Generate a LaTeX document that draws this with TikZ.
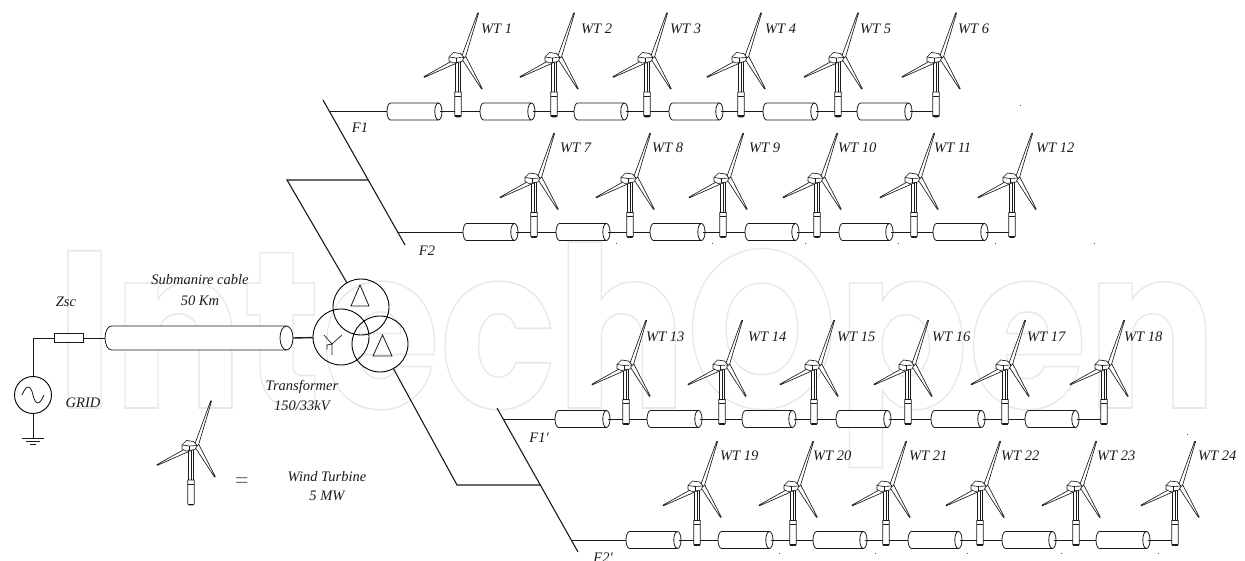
\documentclass[tikz,border=0pt]{standalone}
\usepackage{graphicx}
\usepackage{fontspec}
\setmainfont{Liberation Serif}
\newfontfamily\wmfont{Poppins}
\usetikzlibrary{shapes.geometric}
\definecolor{ink}{HTML}{1A1A1A}
\newcommand{\wmark}[1]{\special{pdf:code q 0.91 G 1.5 w 1 Tr}#1\special{pdf:code 0 Tr Q}}
\tikzset{
  wire/.style={draw=ink,line width=0.9pt},
  cablebox/.style={rectangle,draw=none,inner sep=0pt,outer sep=0pt,minimum height=17pt},
  cablepen/.style={draw=ink,fill=white,line width=0.8pt},
  winding/.style={circle,draw=black,line width=0.9pt,inner sep=0pt,outer sep=0pt,minimum size=56pt},
  lbl/.style={inner sep=0pt,outer sep=0pt,font=\fontsize{14.5}{16}\selectfont\itshape,text=ink},
  wtlbl/.style={lbl,anchor=west},
  speck/.style={fill=black!70,draw=none,inner sep=0pt,minimum size=1pt},
  turbine/.pic={
    \begin{scope}[line width=0.65pt,draw=ink,fill=white,line join=round]
      \filldraw (-2.3,-57) rectangle (2.3,-25);
      \draw (0.3,-57) -- (0.3,-25);
      \filldraw (-3.2,-25) -- (3.2,-25) -- (3.2,-1) -- (2,0) -- (-2,0) -- (-3.2,-1) -- cycle;
      \draw (-3.2,-21) -- (3.2,-21);
      \fill[ink] (-3.2,-1.5) rectangle (3.2,0);
      \filldraw (3.3,-59.5) -- (19.6,-104) -- (20.6,-104) -- (6.9,-58) -- cycle;
      \filldraw (3.2,-61.2) -- (-34,-40.4) -- (-33.8,-39.6) -- (4,-56.3) -- cycle;
      \filldraw (4.2,-57.5) -- (23.5,-28) -- (24.3,-28.4) -- (7.8,-60.5) -- cycle;
      \filldraw (-9,-60) -- (-4.5,-64.5) -- (2.5,-63.5) -- (6,-59.5) -- (4,-55.5) -- (-5,-54) -- (-9,-56) -- cycle;
      \draw (-9,-60) -- (-2,-59) -- (6,-59.5);
      \draw (-2,-59) -- (-2,-54.8);
    \end{scope}
  }
}
% cylinder outline: left x, right x, centre y, half width, end radius
\newcommand{\cylpath}[5]{%
  \pgfmathsetmacro{\xl}{#1+#5}\pgfmathsetmacro{\xr}{#2-#5}%
  \pgfmathsetmacro{\yt}{#3-#4}\pgfmathsetmacro{\yb}{#3+#4}%
  \pgfmathsetmacro{\kx}{0.55*#5}\pgfmathsetmacro{\ky}{0.55*#4}%
  \filldraw[cablepen] (\xl,\yt) -- (\xr,\yt)
    .. controls (\xr+\kx,\yt) and (#2,#3-\ky) .. (#2,#3)
    .. controls (#2,#3+\ky) and (\xr+\kx,\yb) .. (\xr,\yb)
    -- (\xl,\yb)
    .. controls (\xl-\kx,\yb) and (#1,#3+\ky) .. (#1,#3)
    .. controls (#1,#3-\ky) and (\xl-\kx,\yt) .. cycle;
  \draw[cablepen,fill=none] (\xr,\yt)
    .. controls (\xr-\kx,\yt) and (#2-2*#5,#3-\ky) .. (#2-2*#5,#3)
    .. controls (#2-2*#5,#3+\ky) and (\xr-\kx,\yb) .. (\xr,\yb);
}
% one feeder: name of start point, line y, label y, list k/tower x/cable start/cable end/label x
\newcommand{\feeder}[4]{%
  \foreach \k/\tx/\ca/\cb/\lx [count=\i] in {#4} {
    \node[cablebox,minimum width={\cb-\ca}] (C\k) at ({(\ca+\cb)/2},#2) {};
    \cylpath{\ca}{\cb}{#2}{8.5}{3.6}
    \coordinate (T\k) at (\tx,#2);
    \ifnum\i=1 \draw[wire] (#1) -- (C\k.west);
    \else \pgfmathtruncatemacro{\p}{\k-1}\draw[wire] (T\p) -- (C\k.west); \fi
    \draw[wire] ([xshift=-2.5pt]C\k.east) -- (T\k);
  }
  \foreach \k/\tx/\ca/\cb/\lx in {#4} {
    \pic at (\tx,#2+5.5) {turbine};
    \node[wtlbl] (L\k) at (\lx,#3) {WT \k};
  }
}
\begin{document}
\begin{tikzpicture}[x=1pt,y=-1pt]
\useasboundingbox (0,0) rectangle (1245,561);
\clip (0,0) rectangle (1245,561);
% watermark
\node[inner sep=0pt,anchor=base west] (wm) at (56,408) {\scalebox{0.86}[1]{\wmark{\fontsize{224}{224}\wmfont\bfseries IntechOpen}}};
% buses
\coordinate (U1) at (323,100); \coordinate (U2) at (405,245);
\coordinate (F1) at (329.2,111.5); \coordinate (F2) at (397.6,232);
\coordinate (UJ) at (368.2,180); \coordinate (UK) at (287,180);
\coordinate (D1) at (497,408); \coordinate (D2) at (578,552);
\coordinate (F3) at (503.2,419); \coordinate (F4) at (571,540);
\coordinate (DJ) at (540.3,485); \coordinate (DK) at (457,485);
\draw[wire,line width=1.1pt] (U1) -- (U2);
\draw[wire,line width=1.1pt] (D1) -- (D2);
% transformer
\node[winding] (Wtop) at (361,307) {};
\node[winding] (Wleft) at (341,337) {};
\node[winding] (Wright) at (380,344) {};
\draw[wire,line width=1.1pt] (UJ) -- (UK) -- (Wtop);
\draw[wire,line width=1.1pt] (DJ) -- (DK) -- (Wright);
\draw[line width=0.8pt,draw=ink] (360,285) -- (369,306) -- (351,306) -- cycle;
\draw[line width=0.8pt,draw=ink] (382.5,335) -- (392,356) -- (373,356) -- cycle;
\draw[line width=0.7pt,draw=ink] (324,335) -- (332,344) -- (342,335) (332,344) -- (332,355) (327,349.5) -- (327,345) -- (332,344);
% source side
\node[circle,draw=black,line width=0.9pt,inner sep=0pt,minimum size=37pt] (G) at (33,395) {};
\coordinate (GJ) at (33,338);
\coordinate (E) at (33,438);
\node[rectangle,draw=ink,line width=0.8pt,fill=white,inner sep=0pt,minimum width=29pt,minimum height=8.5pt] (R) at (68.5,338) {};
\node[cablebox,minimum height=24pt,minimum width=188pt] (M) at (199,338) {};
\cylpath{105}{293}{338}{12}{6.5}
\draw[wire] (G) -- (GJ) -- (R);
\draw[wire] (R) -- (M.west);
\draw[wire,line width=1.4pt] (M.east) -- (Wleft);
\draw[wire] (G) -- (E);
\draw[line width=0.8pt,draw=ink] (22,438) -- (44,438) (26,441) -- (40,441) (30,444) -- (36,444);
\draw[line width=0.8pt,draw=ink] (22,395) .. controls (27,383) and (31,386) .. (33,395) .. controls (35,404) and (39,407) .. (44,395);
% feeders
\feeder{F1}{111.5}{29}{1/458/387/442/481,2/554/480/535/581,3/647/574/628/670,4/741/669/723/765,5/838/763/818/860,6/936/857/912/958}
\feeder{F2}{232}{148}{7/534/463/518/560,8/630/556/610/652,9/723/650/705/749,10/817/745/799/838,11/914/839/893/934,12/1012/933/988/1036}
\feeder{F3}{419}{337}{13/626/555/610/646,14/722/647/702/748,15/814/742/796/837,16/908/836/891/932,17/1005/931/985/1027,18/1104/1025/1079/1124}
\feeder{F4}{540}{456}{19/697/626/681/720,20/793/718/773/813,21/886/813/867/909,22/980/908/962/1001,23/1076/1002/1056/1097,24/1175/1096/1150/1198}
% legend
\pic at (191,505) {turbine};
\node[font=\fontsize{24}{24}\selectfont,text=black!55,inner sep=0pt] (eq) at (242,483) {=};
% labels
\node[lbl] (nF1) at (360,128) {F1};
\node[lbl] (nF2) at (427,251) {F2};
\node[lbl] (nF3) at (539,438) {F1\textquotesingle};
\node[lbl] (nF4) at (603,558) {F2\textquotesingle};
\node[lbl] (nZ) at (66,302) {Zsc};
\node[lbl] (nS1) at (200,280) {Submanire cable};
\node[lbl] (nS2) at (200,301) {50 Km};
\node[lbl] (nT1) at (302,387) {Transformer};
\node[lbl] (nT2) at (302,406) {150/33kV};
\node[lbl] (nG) at (83,403) {GRID};
\node[lbl] (nW1) at (327,477) {Wind Turbine};
\node[lbl] (nW2) at (327,496) {5 MW};
% specks
\foreach \sx/\sy [count=\s] in {1020/106,616/244,712/244,805/244,898/244,995/244,1094/244,1187/434,779/553,875/553,967/553,1061/553,1158/553}
  \node[speck] (s\s) at (\sx,\sy) {};
\end{tikzpicture}
\end{document}
